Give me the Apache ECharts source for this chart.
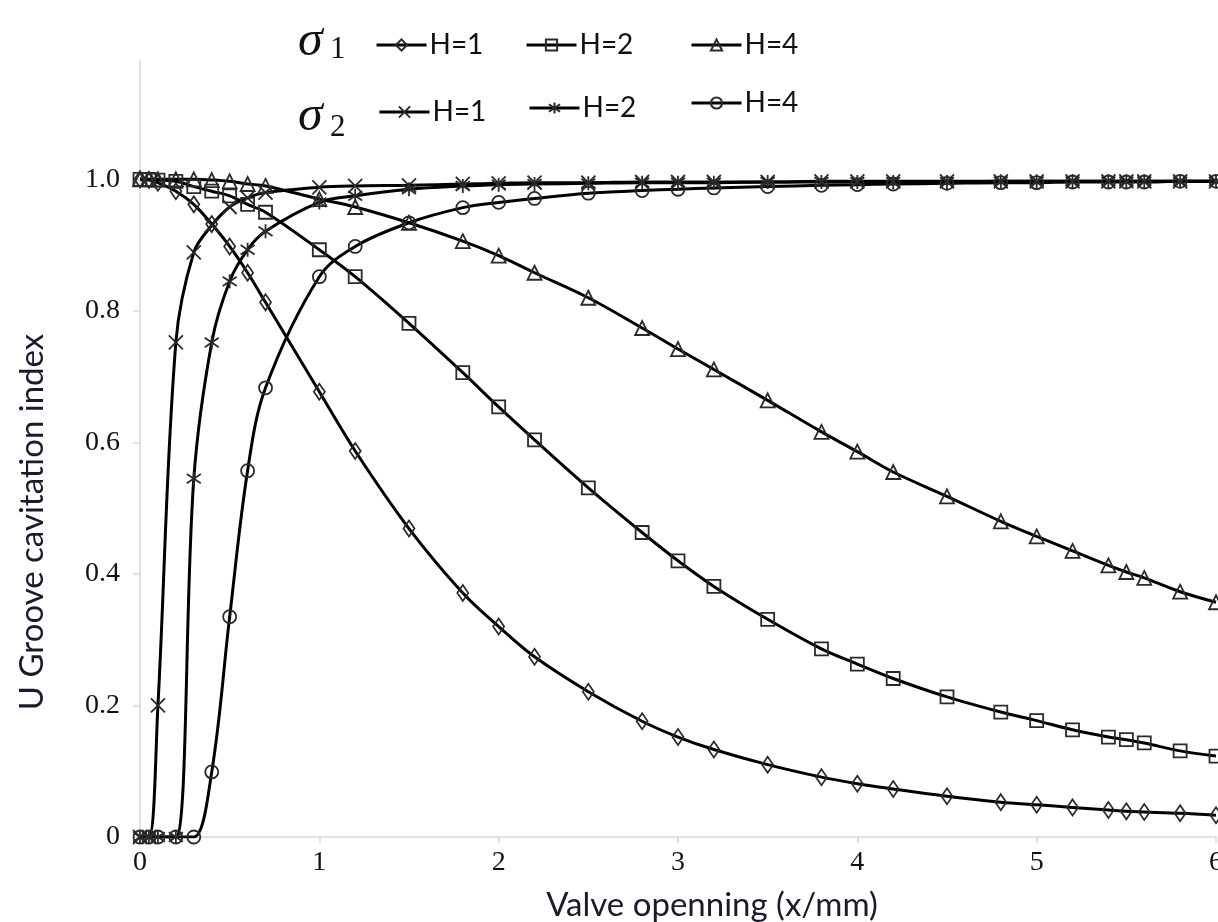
<!DOCTYPE html>
<html>
<head>
<meta charset="utf-8">
<script src="https://cdn.jsdelivr.net/npm/echarts@6/dist/echarts.min.js"></script>
<style>
html,body{margin:0;padding:0;background:#fff;}
#chart{width:1218px;height:922px;}
</style>
</head>
<body>
<div id="chart"></div>
<script>
// Shared x positions (valve opening, mm)
var xValues = [0, 0.05, 0.1, 0.2, 0.3, 0.4, 0.5, 0.6, 0.7, 1.0, 1.2, 1.5, 1.8, 2.0, 2.2, 2.5, 2.8, 3.0, 3.2, 3.5, 3.8, 4.0, 4.2, 4.5, 4.8, 5.0, 5.2, 5.4, 5.5, 5.6, 5.8, 6.0];

// sigma1
var s1H1 = [1.0, 0.999, 0.995, 0.982, 0.962, 0.932, 0.898, 0.858, 0.813, 0.677, 0.587, 0.469, 0.371, 0.320, 0.274, 0.221, 0.176, 0.152, 0.133, 0.110, 0.091, 0.081, 0.073, 0.062, 0.053, 0.049, 0.045, 0.041, 0.039, 0.038, 0.036, 0.033];
var s1H2 = [1.0, 1.0, 0.999, 0.997, 0.989, 0.982, 0.975, 0.962, 0.950, 0.893, 0.852, 0.781, 0.706, 0.654, 0.604, 0.531, 0.463, 0.420, 0.381, 0.331, 0.286, 0.263, 0.241, 0.213, 0.190, 0.177, 0.163, 0.152, 0.148, 0.143, 0.131, 0.123];
var s1H4 = [1.0, 1.0, 1.0, 1.0, 1.0, 0.999, 0.997, 0.993, 0.990, 0.970, 0.958, 0.934, 0.906, 0.884, 0.858, 0.820, 0.774, 0.742, 0.711, 0.664, 0.616, 0.586, 0.555, 0.518, 0.480, 0.457, 0.435, 0.413, 0.403, 0.394, 0.373, 0.357];
// sigma2
var s2H1 = [0, 0, 0.200, 0.752, 0.889, 0.930, 0.958, 0.972, 0.980, 0.988, 0.990, 0.991, 0.993, 0.994, 0.995, 0.995, 0.996, 0.996, 0.996, 0.996, 0.997, 0.997, 0.997, 0.997, 0.997, 0.997, 0.997, 0.997, 0.997, 0.997, 0.997, 0.997];
var s2H2 = [0, 0, 0, 0, 0.545, 0.752, 0.845, 0.893, 0.921, 0.965, 0.975, 0.985, 0.990, 0.992, 0.993, 0.994, 0.995, 0.995, 0.995, 0.996, 0.996, 0.996, 0.996, 0.996, 0.997, 0.997, 0.997, 0.997, 0.997, 0.997, 0.997, 0.997];
var s2H4 = [0, 0, 0, 0, 0, 0.099, 0.335, 0.557, 0.683, 0.852, 0.898, 0.934, 0.957, 0.965, 0.971, 0.979, 0.983, 0.985, 0.987, 0.989, 0.991, 0.992, 0.993, 0.994, 0.995, 0.995, 0.996, 0.996, 0.996, 0.996, 0.997, 0.997];

var seriesNames = ['σ1 H=1', 'σ1 H=2', 'σ1 H=4', 'σ2 H=1', 'σ2 H=2', 'σ2 H=4'];
var seriesValues = [s1H1, s1H2, s1H4, s2H1, s2H2, s2H4];
var xTickLabels = ['0', '1', '2', '3', '4', '5', '6'];
var yTickLabels = ['0', '0.2', '0.4', '0.6', '0.8', '1.0'];
var xTitle = 'Valve openning (x/mm)';
var yTitle = 'U Groove cavitation index';

var symbols = [
  {symbol: 'diamond', size: [11, 16]},
  {symbol: 'rect', size: 13},
  {symbol: 'triangle', size: 14},
  {symbol: 'path://M0,0L10,10M10,0L0,10', size: 14},
  {symbol: 'path://M0,1L10,9M10,1L0,9M5,-1L5,11', size: 14},
  {symbol: 'circle', size: 13}
];

function pairs(ys) {
  return xValues.map(function (x, i) { return [x, ys[i]]; });
}

var series = seriesNames.map(function (name, i) {
  return {
    name: name,
    type: 'line',
    data: pairs(seriesValues[i]),
    smooth: 0.35,
    symbol: symbols[i].symbol,
    symbolSize: symbols[i].size,
    showAllSymbol: true,
    lineStyle: {color: '#000', width: 3},
    itemStyle: {color: 'rgba(255,255,255,0)', borderColor: '#2a2a2a', borderWidth: 1.8},
    emphasis: {disabled: true},
    animation: false
  };
});

var legendPos = [
  {left: 375, cy: 45},
  {left: 525, cy: 45},
  {left: 690, cy: 45},
  {left: 378, cy: 112},
  {left: 528, cy: 108},
  {left: 690, cy: 103}
];
var legends = seriesNames.map(function (name, i) {
  return {
    data: [name],
    left: legendPos[i].left,
    top: legendPos[i].cy - 14,
    padding: 0,
    itemWidth: 50,
    itemHeight: 14,
    itemGap: 3,
    selectedMode: false,
    lineStyle: {width: 3, color: '#000'},
    formatter: function (n) { return n.split(' ')[1]; },
    textStyle: {fontFamily: 'Lato', fontSize: 28, lineHeight: 28, color: '#111', padding: [0, 0, 0, -2]}
  };
});

var chart = echarts.init(document.getElementById('chart'), null, {renderer: 'canvas'});
chart.setOption({
  backgroundColor: '#fff',
  animation: false,
  grid: {left: 140, right: 2, top: 61, bottom: 85, containLabel: false, outerBoundsMode: 'none'},
  legend: legends,
  xAxis: {
    type: 'value',
    min: 0, max: 6, interval: 1,
    splitLine: {show: false},
    axisLine: {onZero: true, lineStyle: {color: '#d9d9d9', width: 1.5}},
    axisTick: {show: true, length: 6, lineStyle: {color: '#d9d9d9', width: 1.5}},
    axisLabel: {
      margin: 12,
      fontFamily: 'Liberation Serif', fontSize: 28, color: '#111',
      formatter: function (v) { return xTickLabels[Math.round(v)] || ''; }
    }
  },
  yAxis: {
    type: 'value',
    min: 0, max: 1.18, interval: 0.2,
    splitLine: {show: false},
    axisLine: {show: true, lineStyle: {color: '#d9d9d9', width: 1.5}},
    axisTick: {show: true, length: 7, lineStyle: {color: '#d9d9d9', width: 1.5}},
    axisLabel: {
      margin: 20, showMaxLabel: false,
      fontFamily: 'Liberation Serif', fontSize: 28, color: '#111',
      formatter: function (v) {
        var k = Math.round(v / 0.2);
        if (Math.abs(v - k * 0.2) > 1e-6) return '';
        return yTickLabels[k] || '';
      }
    }
  },
  graphic: [
    {type: 'text', left: 298, top: 17, style: {text: 'σ', font: 'italic 50px "Liberation Serif"', fill: '#111'}},
    {type: 'text', left: 330, top: 34, style: {text: '1', font: '31px "Liberation Serif"', fill: '#111'}},
    {type: 'text', left: 298, top: 92, style: {text: 'σ', font: 'italic 50px "Liberation Serif"', fill: '#111'}},
    {type: 'text', left: 330, top: 112, style: {text: '2', font: '31px "Liberation Serif"', fill: '#111'}},
    {type: 'text', x: 32, y: 522, rotation: Math.PI / 2,
     style: {text: yTitle, font: '33px Lato', fill: '#1a1a2e', align: 'center', verticalAlign: 'middle'}},
    {type: 'text', x: 712, y: 905,
     style: {text: xTitle, font: '33px Lato', fill: '#1a1a2e', align: 'center', verticalAlign: 'middle'}}
  ],
  series: series
});
</script>
</body>
</html>
